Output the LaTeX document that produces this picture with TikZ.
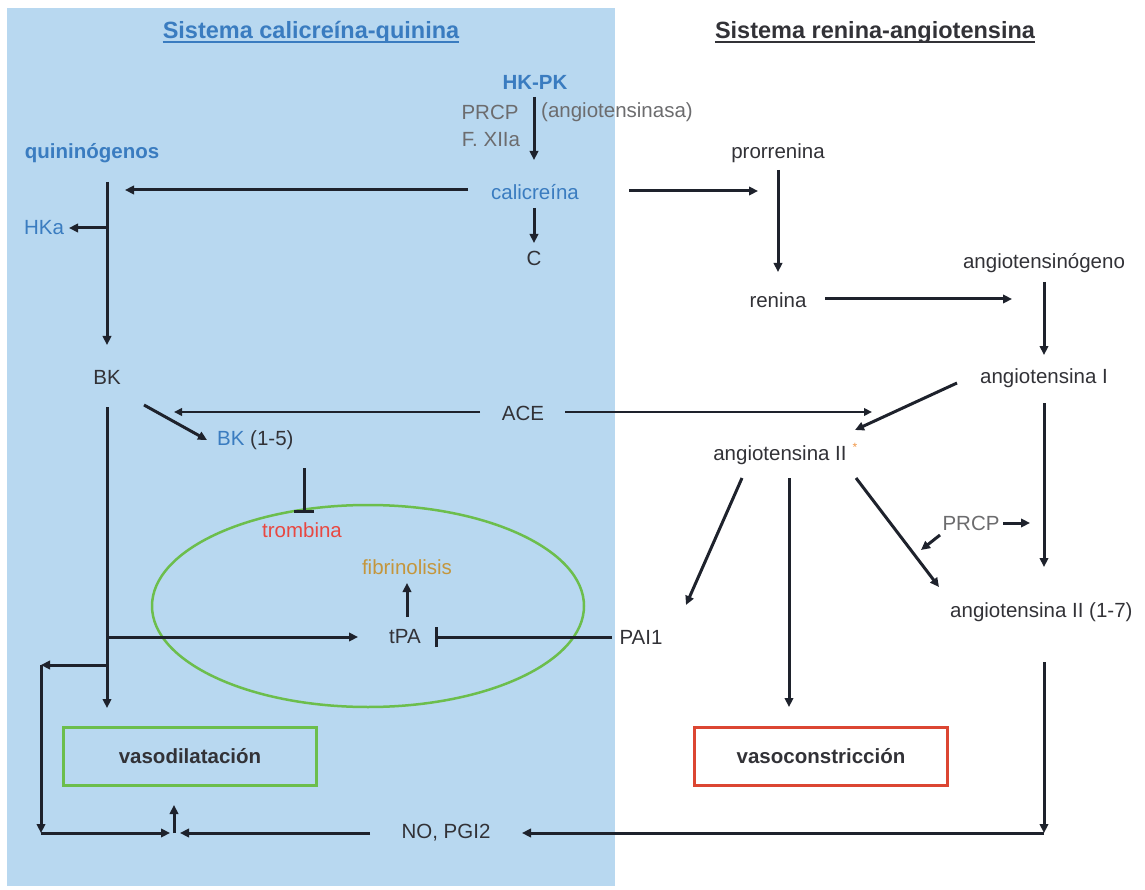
\documentclass[tikz,border=0pt]{standalone}
\usepackage{fontspec}
\setmainfont{Liberation Sans}
\usetikzlibrary{arrows.meta}

\definecolor{panelblue}{RGB}{184,216,240}
\definecolor{kblue}{RGB}{58,124,192}
\definecolor{txtdark}{RGB}{50,50,55}
\definecolor{txtgray}{RGB}{108,108,110}
\definecolor{arrc}{RGB}{30,34,44}
\definecolor{okgreen}{RGB}{108,190,76}
\definecolor{alertred}{RGB}{220,70,50}
\definecolor{trombred}{RGB}{232,72,66}
\definecolor{fibgold}{RGB}{196,150,60}
\definecolor{starorange}{RGB}{240,150,70}

\begin{document}
\begin{tikzpicture}[x=1pt,y=-1pt,
  lbl/.style={font=\fontsize{20.5}{24}\selectfont, text=txtdark, inner sep=0pt},
  bluelbl/.style={lbl, text=kblue},
  graylbl/.style={lbl, text=txtgray},
  boldlbl/.style={lbl, font=\fontsize{20.5}{24}\selectfont\bfseries},
  titlelbl/.style={lbl, font=\fontsize{23.5}{28}\selectfont\bfseries},
  arr/.style={draw=arrc, line width=3pt, -{Triangle[length=9pt,width=8.5pt]}},
  thinarr/.style={draw=arrc, line width=2pt, -{Triangle[length=8pt,width=7.5pt]}},
  inhib/.style={draw=arrc, line width=3pt, -{Bar[width=20pt,line width=3pt]}},
  outcome/.style={draw, line width=3pt, minimum width=253pt, minimum height=58pt,
    inner sep=0pt, font=\fontsize{20.5}{24}\selectfont\bfseries, text=txtdark}
]
\useasboundingbox (0,0) rectangle (1145,890);

% background panel of the kallikrein-kinin side
\fill[panelblue] (7,8) rectangle (615,886);

% ---------- titles ----------
\node[titlelbl, text=kblue] (tl) at (311,32) {Sistema calicreína-quinina};
\draw[kblue, line width=1.6pt] ([yshift=-4pt]tl.base west) -- ([yshift=-4pt]tl.base east);
\node[titlelbl] (tr) at (875,32) {Sistema renina-angiotensina};
\draw[txtdark, line width=1.6pt] ([yshift=-4pt]tr.base west) -- ([yshift=-4pt]tr.base east);

% ---------- kallikrein-kinin labels ----------
\node[boldlbl, text=kblue] (hkpk) at (535,82) {HK-PK};
\node[graylbl] (prcpa) at (490,112) {PRCP};
\node[graylbl] (fxii) at (491,140) {F. XIIa};
\node[graylbl, anchor=west] (angsa) at (541,112) {(angiotensinasa)};
\node[boldlbl, text=kblue] (quin) at (92,153) {quininógenos};
\node[bluelbl] (calic) at (535,192) {calicreína};
\node[bluelbl] (hka) at (44,228) {HKa};
\node[lbl] (cc) at (534,258) {C};
\node[lbl] (bk) at (107,377) {BK};
\node[lbl] (ace) at (523,413) {ACE};
\node[lbl, anchor=west] (bk15) at (217,440) {\textcolor{kblue}{BK} (1-5)};
\node[lbl, text=trombred] (tromb) at (302,530) {trombina};
\node[lbl, text=fibgold] (fibr) at (407,567) {fibrinolisis};
\node[lbl] (tpa) at (405,637) {tPA};
\node[lbl] (pai) at (641,637) {PAI1};
\node[lbl] (nopgi) at (446,833) {NO, PGI2};

% ---------- renin-angiotensin labels ----------
\node[lbl] (prorr) at (778,153) {prorrenina};
\node[lbl] (renina) at (778,300) {renina};
\node[lbl] (angog) at (1044,263) {angiotensinógeno};
\node[lbl] (angI) at (1044,378) {angiotensina I};
\node[lbl] (angII) at (780,455) {angiotensina II};
\node[inner sep=0pt, text=starorange, font=\fontsize{12}{14}\selectfont] (star) at (855,447) {*};
\node[graylbl] (prcpb) at (971,523) {PRCP};
\node[lbl, anchor=west] (ang17) at (950,612) {angiotensina II (1-7)};

% ---------- outcome boxes and fibrinolysis ellipse ----------
\node[outcome, draw=okgreen] (vasod) at (190,756) {vasodilatación};
\node[outcome, draw=alertred, fill=white] (vasoc) at (821,756) {vasoconstricción};
\draw[okgreen, line width=2.5pt] (368,606) ellipse [x radius=216, y radius=101];

% ---------- connector end points ----------
\coordinate (hkpkS) at (534,97);   \coordinate (calicN) at (534,160);
\coordinate (calicW) at (468,190); \coordinate (quinE) at (125,190);
\coordinate (quinS) at (107,182);  \coordinate (bkN) at (107,345);
\coordinate (hkaJ) at (107,228);   \coordinate (hkaE) at (69,228);
\coordinate (calicS) at (534,208); \coordinate (ccN) at (534,243);
\coordinate (calicE) at (629,191); \coordinate (prorrW) at (758,191);
\coordinate (prorrS) at (778,170); \coordinate (reninaN) at (778,272);
\coordinate (reninaE) at (825,299); \coordinate (angogW) at (1012,299);
\coordinate (angogS) at (1044,282); \coordinate (angIN) at (1044,355);
\coordinate (angIW) at (957,383);  \coordinate (angIIN) at (855,430);
\coordinate (aceW) at (480,412);   \coordinate (bkE) at (174,412);
\coordinate (aceE) at (565,412);   \coordinate (angIIa) at (872,412);
\coordinate (bkSE) at (144,405);   \coordinate (bk15W) at (207,440);
\coordinate (bkS) at (107,407);    \coordinate (vasodN) at (107,708);
\coordinate (bk15S) at (304,468);  \coordinate (trombN) at (304,513);
\coordinate (tpaJ) at (107,637);   \coordinate (tpaW) at (358,637);
\coordinate (tpaN) at (407,617);   \coordinate (fibrS) at (407,583);
\coordinate (paiW) at (612,637);   \coordinate (tpaE) at (435,637);
\coordinate (loopJ) at (107,665);  \coordinate (loopA) at (41,665);
\coordinate (loopB) at (41,833);   \coordinate (mergeL) at (170,833);
\coordinate (mergeC) at (174,833); \coordinate (vasodS) at (174,805);
\coordinate (nopgiW) at (370,833); \coordinate (mergeR) at (180,833);
\coordinate (angIIsw) at (742,478); \coordinate (paiN) at (686,605);
\coordinate (angIIs) at (789,478); \coordinate (vasocN) at (789,707);
\coordinate (angIIse) at (856,478); \coordinate (ang17N) at (939,587);
\coordinate (prcpbE) at (1003,523); \coordinate (angIdown) at (1030,523);
\coordinate (prcpbSW) at (940,535); \coordinate (diagP) at (921,550);
\coordinate (angIS) at (1044,403); \coordinate (ang17NE) at (1044,567);
\coordinate (ang17S) at (1044,662); \coordinate (cornerR) at (1044,833);
\coordinate (nopgiE) at (522,833);

% ---------- kallikrein-kinin connectors ----------
\draw[arr] (hkpkS) -- (calicN);
\draw[arr] (calicW) -- (quinE);
\draw[arr] (quinS) -- (bkN);
\draw[arr] (hkaJ) -- (hkaE);
\draw[arr] (calicS) -- (ccN);
\draw[arr] (calicE) -- (prorrW);
\draw[thinarr] (aceW) -- (bkE);
\draw[thinarr] (aceE) -- (angIIa);
\draw[arr] (bkSE) -- (bk15W);
\draw[arr] (bkS) -- (vasodN);
\draw[inhib] (bk15S) -- (trombN);
\draw[arr] (tpaJ) -- (tpaW);
\draw[arr] (tpaN) -- (fibrS);
\draw[inhib] (paiW) -- (tpaE);
\draw[arr] (loopJ) -- (loopA);
\draw[arr] (loopA) -- (loopB);
\draw[arr] (loopB) -- (mergeL);
\draw[arr] (mergeC) -- (vasodS);
\draw[arr] (nopgiW) -- (mergeR);

% ---------- renin-angiotensin connectors ----------
\draw[arr] (prorrS) -- (reninaN);
\draw[arr] (reninaE) -- (angogW);
\draw[arr] (angogS) -- (angIN);
\draw[arr] (angIW) -- (angIIN);
\draw[arr] (angIIsw) -- (paiN);
\draw[arr] (angIIs) -- (vasocN);
\draw[arr] (angIIse) -- (ang17N);
\draw[arr] (prcpbE) -- (angIdown);
\draw[arr] (prcpbSW) -- (diagP);
\draw[arr] (angIS) -- (ang17NE);
\draw[arr] (ang17S) -- (cornerR);
\draw[arr] (cornerR) -- (nopgiE);
\end{tikzpicture}
\end{document}
